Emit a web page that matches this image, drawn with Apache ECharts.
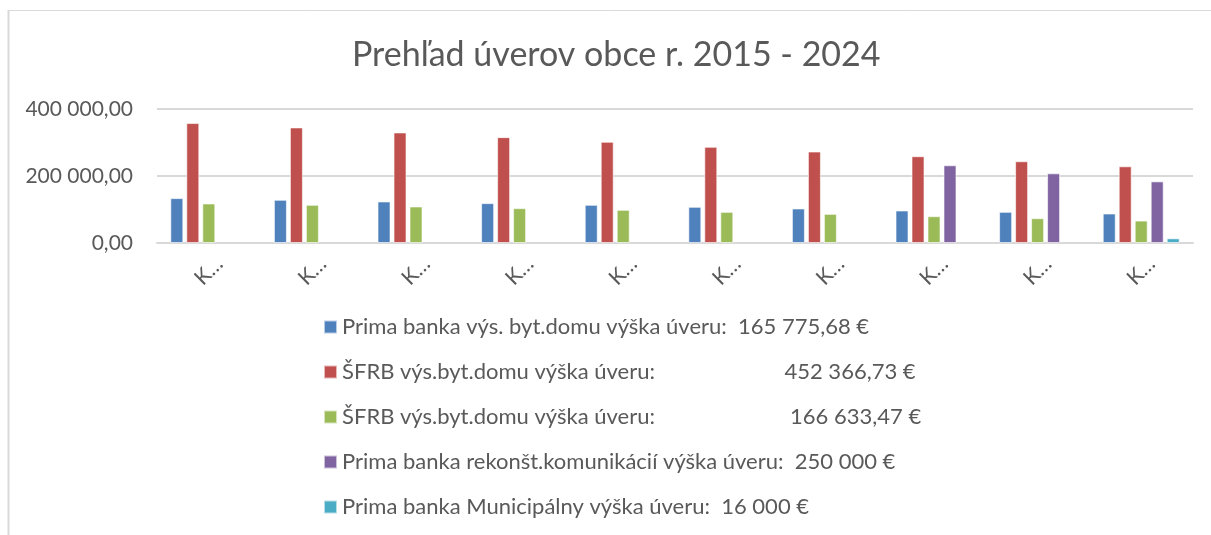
<!DOCTYPE html>
<html>
<head>
<meta charset="utf-8">
<title>Prehľad úverov obce</title>
<script src="https://cdn.jsdelivr.net/npm/echarts@6/dist/echarts.min.js"></script>
<style>
  html, body { margin: 0; padding: 0; background: #fff; }
  #chart { width: 1211px; height: 535px; }
</style>
</head>
<body>
<div id="chart"></div>
<script>
// category labels (truncated in the original as "K…")
const categories = ['K…', 'K…', 'K…', 'K…', 'K…', 'K…', 'K…', 'K…', 'K…', 'K…'];

// legend names (the wide gaps are spaces in the original legend)
const names = [
  'Prima banka výs. byt.domu výška úveru:  165 775,68 €',
  'ŠFRB výs.byt.domu výška úveru:' + ' '.repeat(23) + '452 366,73 €',
  'ŠFRB výs.byt.domu výška úveru:' + ' '.repeat(24) + '166 633,47 €',
  'Prima banka rekonšt.komunikácií výška úveru:  250 000 €',
  'Prima banka Municipálny výška úveru:  16 000 €'
];

// values
const primaByt = [134000, 129000, 124000, 119000, 114000, 108000, 103000, 97000, 93000, 88000];
const sfrb1 = [358000, 345000, 330000, 316000, 302000, 287000, 273000, 259000, 244000, 229000];
const sfrb2 = [118000, 114000, 109000, 104000, 99000, 93000, 87000, 80000, 74000, 67000];
const primaKom = [null, null, null, null, null, null, null, 232000, 208000, 184000];
const primaMun = [null, null, null, null, null, null, null, null, null, 14000];

const colors = ['#4F81BD', '#C0504D', '#9BBB59', '#8064A2', '#4BACC6'];
const FONT = 'Lato';
const TXT = '#595959';

const chart = echarts.init(document.getElementById('chart'));

const seriesData = [primaByt, sfrb1, sfrb2, primaKom, primaMun];

chart.setOption({
  animation: false,
  color: colors,
  textStyle: { fontFamily: FONT, color: TXT },
  title: {
    text: 'Prehľad úverov obce r. 2015 - 2024',
    left: 352,
    top: 38,
    padding: 0,
    textStyle: { fontFamily: FONT, fontSize: 34, fontWeight: 'normal', color: TXT }
  },
  graphic: [
    { type: 'line', shape: { x1: 8.5, y1: 10, x2: 8.5, y2: 535 }, style: { stroke: '#d9d9d9', lineWidth: 2 } },
    { type: 'line', shape: { x1: 8, y1: 10.5, x2: 1211, y2: 10.5 }, style: { stroke: '#d9d9d9', lineWidth: 1 } }
  ],
  legend: {
    orient: 'vertical',
    left: 323,
    top: 315,
    padding: 0,
    itemWidth: 13,
    itemHeight: 13,
    itemGap: 21,
    icon: 'rect',
    data: names,
    textStyle: { fontFamily: FONT, fontSize: 22, color: TXT, lineHeight: 24 }
  },
  grid: { left: 157, right: 18, top: 109, bottom: 292 },
  xAxis: {
    type: 'category',
    data: categories,
    axisTick: { show: false },
    axisLine: { lineStyle: { color: '#d9d9d9', width: 2 } },
    axisLabel: {
      rotate: 45,
      align: 'center',
      verticalAlign: 'middle',
      margin: 28,
      fontSize: 21,
      color: TXT,
      fontFamily: FONT
    }
  },
  yAxis: {
    type: 'value',
    min: 0,
    max: 400000,
    interval: 200000,
    axisLabel: {
      margin: 24,
      fontSize: 21,
      color: TXT,
      fontFamily: FONT,
      formatter: v => v === 0 ? '0,00' : (v / 1000) + ' 000,00'
    },
    splitLine: { lineStyle: { color: '#d9d9d9', width: 2 } }
  },
  series: seriesData.map((d, i) => ({
    name: names[i],
    type: 'bar',
    data: d,
    barWidth: 13,
    barGap: '23%',
    itemStyle: { borderColor: 'rgba(255,255,255,0.6)', borderWidth: 1 }
  }))
});
</script>
</body>
</html>
